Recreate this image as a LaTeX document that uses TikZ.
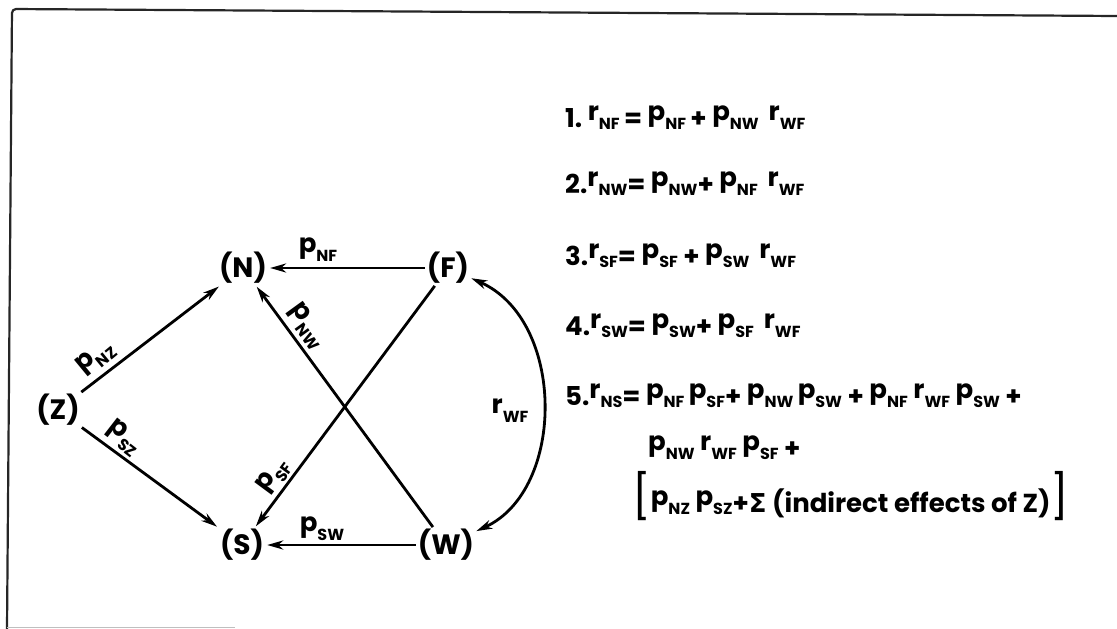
\documentclass[tikz,border=0pt]{standalone}
\usepackage{fontspec}
\setmainfont{Poppins}
\newfontfamily\dejavu{DejaVu Sans}
\usetikzlibrary{arrows.meta}
\newcommand{\sub}[1]{\raisebox{-0.08em}{\fontsize{16}{16}\selectfont\bfseries #1}}
\newcommand{\pp}[1]{\raisebox{0.26em}{p}\sub{#1}}
\newcommand{\rr}[1]{\raisebox{0.26em}{r}\sub{#1}}
\begin{document}
\begin{tikzpicture}[x=1pt,y=-1pt,
  var/.style={font=\fontsize{28}{28}\selectfont\bfseries, inner sep=2pt},
  arr/.style={line width=2.8pt, -{Stealth[length=16pt,width=9pt,inset=5pt]}, shorten >=1pt},
  darr/.style={line width=2.8pt, {Stealth[length=16pt,width=9pt,inset=5pt]}-{Stealth[length=16pt,width=9pt,inset=5pt]}},
  lab/.style={font=\fontsize{26}{26}\selectfont\bfseries, inner sep=0pt},
  eq/.style={anchor=base west, font=\fontsize{26}{26}\selectfont\bfseries, inner sep=0pt},
  frame/.style={line width=2.2pt, black!85}]
\useasboundingbox (0,0) rectangle (1117,629);
% frame
\draw[frame, rounded corners=4pt] (7,629) -- (12,9) -- (1117,16);
\draw[black!25, line width=0.8pt] (7,627) -- (235,627);
% variables
\node[var] (Z) at (58,410) {(Z)};
\node[var] (N) at (243,268) {(N)};
\node[var] (F) at (448,268) {(F)};
\node[var] (S) at (242,545) {(S)};
\node[var] (W) at (446,545) {(W)};
% connectors
\draw[arr] (Z) -- (N);
\draw[arr] (Z) -- (S);
\draw[arr] (F) -- (N);
\draw[arr] (W) -- (S);
\draw[arr] (W) -- (N);
\draw[arr] (F) -- (S);
\draw[darr] (F) .. controls (566,320) and (566,490) .. (W);
% path labels
\node[lab] (lNF) at (318,250) {\pp{NF}};
\node[lab] (lSW) at (322,529) {\pp{SW}};
\node[lab, rotate=39.5] (lNZ) at (96,358) {\pp{NZ}};
\node[lab, rotate=-37.7] (lSZ) at (124,438) {\pp{SZ}};
\node[lab, rotate=-54] (lNW) at (307,326) {\pp{NW}};
\node[lab, rotate=53.5] (lSF) at (274,476) {\pp{SF}};
\node[lab] (lWF) at (510,411) {\rr{WF}};
% equations
\node[eq] (e1) at (565,127) {1.\ \rr{NF}\,= \pp{NF}\,+ \pp{NW}\, \rr{WF}};
\node[eq] (e2) at (565,193) {2.\rr{NW}= \pp{NW}+ \pp{NF}\, \rr{WF}};
\node[eq] (e3) at (565,265) {3.\rr{SF}= \pp{SF} + \pp{SW}\, \rr{WF}};
\node[eq] (e4) at (565,335) {4.\rr{SW}= \pp{SW}+ \pp{SF}\, \rr{WF}};
\node[eq] (e5) at (565,405) {5.\rr{NS}= \pp{NF}\,\pp{SF}+ \pp{NW}\,\pp{SW} + \pp{NF} \rr{WF} \pp{SW} +};
\node[eq] (e5b) at (648,457) {\pp{NW} \rr{WF} \pp{SF} +};
\node[eq] (e5c) at (632,512) {{\fontsize{44}{44}\selectfont\mdseries[}\pp{NZ} \pp{SZ}+{\dejavu\bfseries Σ} (indirect effects of Z){\fontsize{44}{44}\selectfont\mdseries]}};
\end{tikzpicture}
\end{document}
